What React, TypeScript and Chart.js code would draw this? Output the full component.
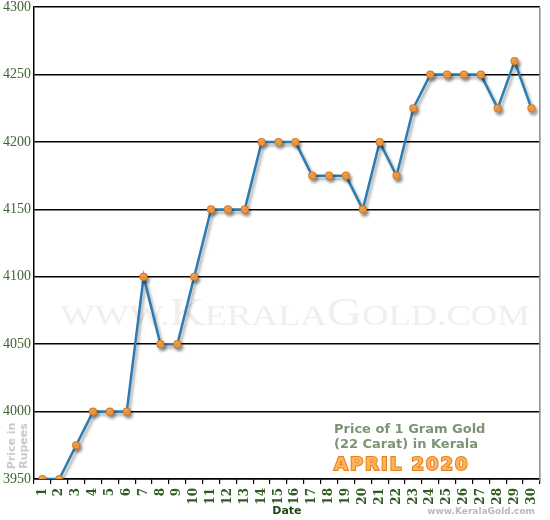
import { useEffect, useRef } from 'react';
import { Chart, registerables } from 'chart.js';

Chart.register(...registerables);

const dates = [
  '1', '2', '3', '4', '5', '6', '7', '8', '9', '10',
  '11', '12', '13', '14', '15', '16', '17', '18', '19', '20',
  '21', '22', '23', '24', '25', '26', '27', '28', '29', '30',
];
const prices = [
  3950, 3950, 3975, 4000, 4000, 4000, 4100, 4050, 4050, 4100,
  4150, 4150, 4150, 4200, 4200, 4200, 4175, 4175, 4175, 4150,
  4200, 4175, 4225, 4250, 4250, 4250, 4250, 4225, 4260, 4225,
];
const yMin = 3950;
const yMax = 4300;
const yStep = 50;

const titleLines = ['Price of 1 Gram Gold', '(22 Carat) in Kerala'];
const monthLabel = 'APRIL 2020';
const yTitleLines = ['Price in', 'Rupees'];
const watermark: [string, number][] = [
  ['WWW.', 30],
  ['K', 40],
  ['ERALA', 30],
  ['G', 40],
  ['OLD.COM', 30],
];
const siteLabel = 'www.KeralaGold.com';

const green = '#3d6531';
const sans = '"DejaVu Sans", Verdana, sans-serif';
const serif = '"Liberation Serif", "DejaVu Serif", serif';

// soft drop shadow under the line and markers
const shadowPlugin = {
  id: 'lineShadow',
  beforeDatasetDraw(chart: Chart) {
    const ctx = chart.ctx;
    ctx.save();
    ctx.shadowColor = 'rgba(0,0,0,0.35)';
    ctx.shadowBlur = 3;
    ctx.shadowOffsetX = 2;
    ctx.shadowOffsetY = 3;
  },
  afterDatasetDraw(chart: Chart) {
    chart.ctx.restore();
  },
};

const decorPlugin = {
  id: 'decor',
  beforeDatasetsDraw(chart: Chart) {
    const { ctx, chartArea } = chart;
    ctx.save();
    ctx.fillStyle = '#efefef';
    ctx.textBaseline = 'alphabetic';
    let total = 0;
    for (const [t, s] of watermark) {
      ctx.font = `${s}px ${serif}`;
      total += ctx.measureText(t).width;
    }
    const left = chartArea.left + 26;
    const width = chartArea.right - 10 - left;
    ctx.translate(left, 325);
    ctx.scale(width / total, 1);
    let x = 0;
    for (const [t, s] of watermark) {
      ctx.font = `${s}px ${serif}`;
      ctx.fillText(t, x, 0);
      x += ctx.measureText(t).width;
    }
    ctx.restore();
  },
  afterDraw(chart: Chart) {
    const { ctx, chartArea } = chart;
    ctx.save();
    // right border
    ctx.strokeStyle = '#8a8a8a';
    ctx.lineWidth = 1.5;
    ctx.beginPath();
    ctx.moveTo(chartArea.right, chartArea.top);
    ctx.lineTo(chartArea.right, chartArea.bottom + 2);
    ctx.stroke();

    // caption
    ctx.textAlign = 'left';
    ctx.textBaseline = 'alphabetic';
    ctx.font = `bold 13px ${sans}`;
    ctx.fillStyle = '#7b9474';
    ctx.fillText(titleLines[0], 334, 433);
    ctx.fillText(titleLines[1], 334, 448);

    ctx.font = `bold 18px ${sans}`;
    (ctx as any).letterSpacing = '2px';
    ctx.lineWidth = 2;
    ctx.strokeStyle = '#e8801c';
    ctx.strokeText(monthLabel, 334, 470);
    ctx.fillStyle = '#fbb25a';
    ctx.fillText(monthLabel, 334, 470);
    (ctx as any).letterSpacing = '0px';

    // y title
    ctx.save();
    ctx.translate(17, 446);
    ctx.rotate(-Math.PI / 2);
    ctx.textAlign = 'center';
    ctx.font = `bold 11px ${sans}`;
    ctx.fillStyle = '#c9c9c9';
    ctx.fillText(yTitleLines[0], 0, -2);
    ctx.fillText(yTitleLines[1], 0, 10);
    ctx.restore();

    // site label
    ctx.textAlign = 'right';
    ctx.font = `bold 9px ${sans}`;
    ctx.fillStyle = '#b9b9b9';
    ctx.fillText(siteLabel, 535, 514);
    ctx.restore();
  },
};

export default function App() {
  const canvasRef = useRef<HTMLCanvasElement>(null);

  useEffect(() => {
    const canvas = canvasRef.current;
    if (!canvas) return;
    const chart = new Chart(canvas, {
      type: 'line',
      data: {
        labels: dates,
        datasets: [
          {
            data: prices,
            borderColor: '#2a7cb4',
            borderWidth: 2.5,
            tension: 0,
            pointRadius: 3.5,
            pointBackgroundColor: '#fbaa55',
            pointBorderColor: '#e27a1c',
            pointBorderWidth: 1.2,
          },
        ],
      },
      options: {
        animation: false,
        responsive: true,
        maintainAspectRatio: false,
        layout: { padding: { top: 0, right: 10, left: 0, bottom: 0 } },
        plugins: {
          legend: { display: false },
          tooltip: { enabled: false },
        },
        scales: {
          x: {
            offset: true,
            grid: {
              offset: true,
              drawOnChartArea: false,
              color: '#000',
              tickLength: 5,
              lineWidth: 1.2,
            },
            border: { color: '#000', width: 1.5 },
            ticks: {
              autoSkip: false,
              minRotation: 90,
              maxRotation: 90,
              padding: 4,
              color: '#2f5a22',
              font: { family: '"DejaVu Serif", serif', size: 12, weight: 'bold' },
            },
            title: {
              display: true,
              text: 'Date',
              color: '#1d4a14',
              font: { family: sans, size: 11, weight: 'bold' },
              padding: { top: 0, bottom: 2 },
            },
            afterFit: (scale: any) => {
              scale.height = 41;
            },
          },
          y: {
            min: yMin,
            max: yMax,
            grid: {
              color: '#000',
              lineWidth: 1.5,
              drawTicks: false,
            },
            border: { color: '#000', width: 1.5 },
            ticks: {
              stepSize: yStep,
              padding: 3,
              color: green,
              font: { family: serif, size: 14, lineHeight: 0.6 },
              callback: (v: any) => String(v),
            },
            afterFit: (scale: any) => {
              scale.width = 34;
            },
          },
        },
      },
      plugins: [decorPlugin, shadowPlugin],
    });
    return () => chart.destroy();
  }, []);

  return (
    <div style={{ position: 'fixed', left: 0, top: 0, width: 550, height: 520, background: '#fff' }}>
      <canvas ref={canvasRef} />
    </div>
  );
}
